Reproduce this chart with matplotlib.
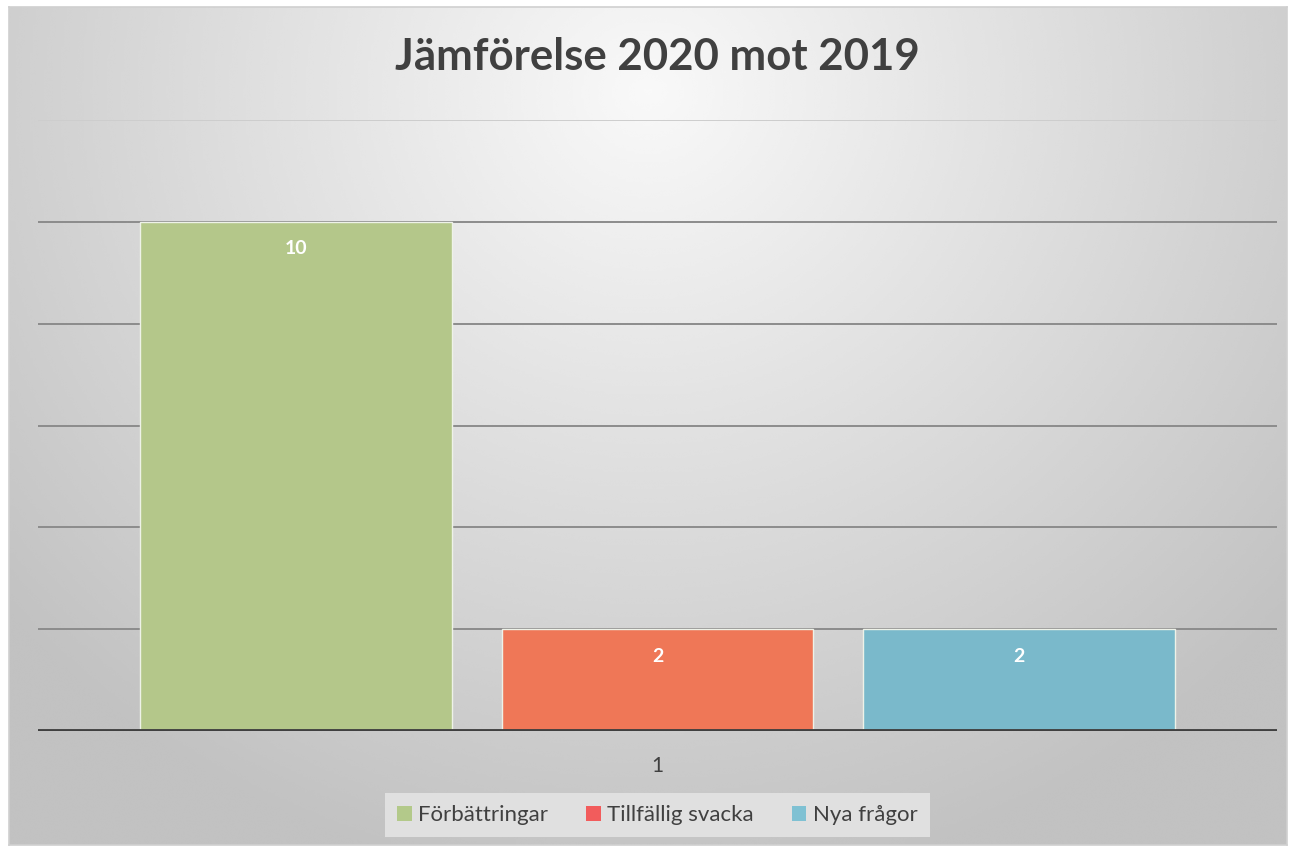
import numpy as np
import matplotlib
matplotlib.use("Agg")
import matplotlib.pyplot as plt
from matplotlib.patches import Patch

title = "Jämförelse 2020 mot 2019"
categories = ["1"]
series_names = ["Förbättringar", "Tillfällig svacka", "Nya frågor"]
series_values = [[10], [2], [2]]
bar_colors = ["#B4C78A", "#EF7757", "#7AB9CB"]
legend_colors = ["#B3C98A", "#F25C5C", "#7FC1D3"]
y_ticks = [0, 2, 4, 6, 8, 10, 12]

plt.rcParams['font.family'] = ['Lato', 'DejaVu Sans']

fig = plt.figure(figsize=(12.9, 8.49), dpi=100)
fig.patch.set_facecolor("white")

# gradient background of chart area
bg = fig.add_axes([9 / 1290, 4 / 849, 1278 / 1290, 838 / 849], zorder=-10)
yy, xx = np.mgrid[0:1:300j, 0:1:450j]
r = np.sqrt(((xx - 0.5) * 1.3) ** 2 + ((yy - 0.1) * 0.9) ** 2)
shade = np.clip(0.975 - 0.25 * r, 0.76, 1.0)
bg.imshow(shade, cmap="gray", vmin=0, vmax=1, aspect="auto",
          extent=[0, 1, 0, 1], origin="upper", interpolation="bicubic")
bg.set_xticks([])
bg.set_yticks([])
for s in bg.spines.values():
    s.set_color("#d0d0d0")
    s.set_linewidth(1.2)

ax = fig.add_axes([38 / 1290, 1 - 731 / 849, 1239 / 1290, 611 / 849])
ax.patch.set_alpha(0)

x = np.arange(len(categories))
n = len(series_names)
width = 0.2518
step = 0.2918
for i, (name, vals) in enumerate(zip(series_names, series_values)):
    xpos = x + (i - (n - 1) / 2) * step
    bars = ax.bar(xpos, vals, width=width, color=bar_colors[i],
                  edgecolor="#eef2e8", linewidth=1.0, zorder=3, label=name)
    for b, v in zip(bars, vals):
        ax.annotate(str(v), (b.get_x() + b.get_width() / 2, v),
                    xytext=(0, -19.5), textcoords="offset points",
                    ha="center", va="center", color="white",
                    fontsize=14, fontweight="bold", zorder=5)

ax.set_xlim(-0.5, 0.5)
ax.set_ylim(0, 12)
for t in y_ticks[1:]:
    col = "#cdcdcd" if t == 12 else "#8c8c8c"
    ax.axhline(t, color=col, linewidth=1.4, zorder=1)
ax.axhline(0, color="#404040", linewidth=3.5, zorder=4)

ax.set_yticks([])
ax.set_xticks(x)
ax.set_xticklabels(categories, fontsize=15, color="#404040")
ax.tick_params(axis="x", length=0, pad=18)
for s in ax.spines.values():
    s.set_visible(False)

fig.text(657 / 1290, 1 - 57 / 849, title, ha="center", va="center",
         fontsize=31.5, fontweight="bold", color="#404040")

handles = [Patch(facecolor=c, edgecolor="none") for c in legend_colors]
leg = fig.legend(handles, series_names, loc="center", ncol=3,
                 bbox_to_anchor=(657.5 / 1290, 1 - 815 / 849), fontsize=16,
                 frameon=True, fancybox=False, handlelength=0.65,
                 handleheight=0.65, handletextpad=0.3, columnspacing=1.7,
                 borderpad=0.55)
leg.get_frame().set_facecolor("#e0e0e0")
leg.get_frame().set_edgecolor("none")
leg.get_frame().set_alpha(1)
for t in leg.get_texts():
    t.set_color("#404040")

fig.savefig("out.png", dpi=100)
